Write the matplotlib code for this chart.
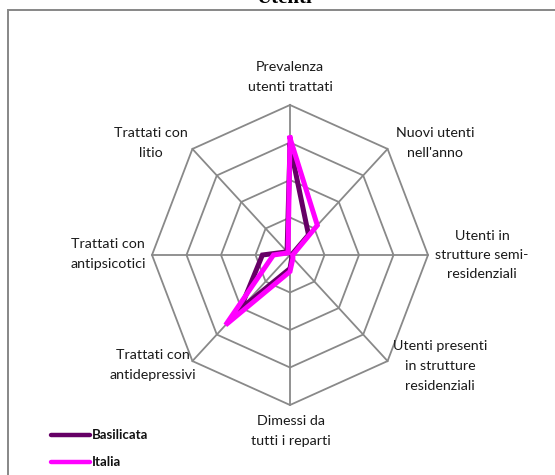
import numpy as np
import matplotlib
matplotlib.use("Agg")
import matplotlib.pyplot as plt
from matplotlib.patches import Rectangle

# ---- data ----
categories = [
    "Prevalenza\nutenti trattati",
    "Nuovi utenti\nnell'anno",
    "Utenti in\nstrutture semi-\nresidenziali",
    "Utenti presenti\nin strutture\nresidenziali",
    "Dimessi da\ntutti i reparti",
    "Trattati con\nantidepressivi",
    "Trattati con\nantipsicotici",
    "Trattati con\nlitio",
]
basilicata = [73, 19, 1, 2, 9, 51, 20, 3]
italia = [78, 28, 2, 3, 11, 66, 12, 2]
series_names = ["Basilicata", "Italia"]
ring_values = [25, 50, 75, 100]
title = "Utenti"

colors = ["#660066", "#FF00FF"]

W, H = 555, 475
fig = plt.figure(figsize=(W / 100, H / 100), dpi=100)

# frame border
fig.patches.append(Rectangle((8 / W, -0.1), 1.2, (H - 10) / H + 0.1,
                             transform=fig.transFigure, fill=False,
                             edgecolor="#878787", linewidth=1.4))

# title (clipped at top, as in the reference)
fig.text(284 / W, 1 - 3 / H, title, ha="center", va="baseline",
         family="Liberation Serif", fontweight="bold", fontsize=15)

# radar axes: center (290,255) px, rx=138 px, ry=150 px
cx, cy, rx, ry = 290, 255, 138, 150
ax = fig.add_axes([(cx - rx) / W, (H - cy - ry) / H, 2 * rx / W, 2 * ry / H])
ax.set_xlim(-100, 100)
ax.set_ylim(-100, 100)
ax.axis("off")

n = len(categories)
ang = np.arange(n) * 2 * np.pi / n
sx, sy = np.sin(ang), np.cos(ang)

grid_kw = dict(color="#898989", linewidth=1.3, zorder=1, clip_on=False)
for r in ring_values:
    ax.plot(np.append(sx, sx[0]) * r, np.append(sy, sy[0]) * r, **grid_kw)
for i in range(n):
    ax.plot([0, sx[i] * ring_values[-1]], [0, sy[i] * ring_values[-1]], **grid_kw)

for vals, c, z in zip([basilicata, italia], colors, [3, 4]):
    v = np.array(vals, dtype=float)
    ax.plot(np.append(sx * v, sx[0] * v[0]), np.append(sy * v, sy[0] * v[0]),
            color=c, linewidth=3.6, zorder=z, clip_on=False,
            solid_joinstyle="miter")

# category labels (pixel centres -> data coords)
label_px = [(290, 77), (435, 143), (482, 255), (440, 366),
            (291, 431), (153, 365), (108, 254), (151, 143)]
for lab, (px, py) in zip(categories, label_px):
    ax.text((px - cx) / rx * 100, (cy - py) / ry * 100, lab,
            ha="center", va="center", family="Lato", fontsize=10.3,
            color="#1a1a1a", linespacing=1.75, clip_on=False)

# legend
leg_y = [435, 462]
for name, c, yy in zip(series_names, colors, leg_y):
    fig.add_artist(plt.Line2D([51 / W, 90 / W], [1 - yy / H, 1 - yy / H],
                              color=c, linewidth=3.2, solid_capstyle="round",
                              transform=fig.transFigure))
    fig.text(92 / W, 1 - yy / H, name, ha="left", va="center",
             family="Lato", fontweight="bold", fontsize=9.5, color="#111111")

fig.savefig("out.png", dpi=100)
